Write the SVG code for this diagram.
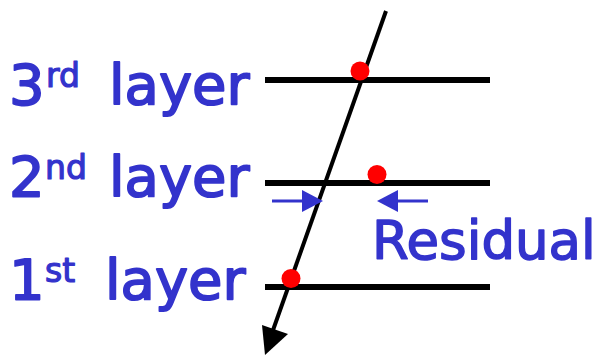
<svg xmlns="http://www.w3.org/2000/svg" width="598" height="357" viewBox="0 0 598 357">
  <style>
    .lbl { font-family: "DejaVu Sans", "Verdana", sans-serif; fill: #3333cc; stroke: #3333cc; stroke-linejoin: round; }
    .big { font-size: 56px; stroke-width: 1.8; }
    .sup { font-size: 33px; stroke-width: 1.2; }
    .layer { stroke: #000; stroke-width: 6; }
    .hit { fill: #ff0000; }
    .res { stroke: #3333cc; stroke-width: 3; }
  </style>

  <g id="label-3rd">
    <text class="lbl big" x="9" y="104">3<tspan class="sup" x="46" dy="-17">rd</tspan><tspan x="109" dy="17">layer</tspan></text>
  </g>
  <g id="label-2nd">
    <text class="lbl big" x="9" y="196">2<tspan class="sup" x="45" dy="-17">nd</tspan><tspan x="109" dy="17">layer</tspan></text>
  </g>
  <g id="label-1st">
    <text class="lbl big" x="9" y="299">1<tspan class="sup" x="45" dy="-17">st</tspan><tspan x="105" dy="17">layer</tspan></text>
  </g>

  <g id="layer-3"><line class="layer" x1="265" y1="80" x2="490" y2="80"/></g>
  <g id="layer-2"><line class="layer" x1="265" y1="183" x2="490" y2="183"/></g>
  <g id="layer-1"><line class="layer" x1="265" y1="287" x2="490" y2="287"/></g>

  <g id="connectors">
    <!-- track -->
    <line x1="386" y1="11" x2="272" y2="333" stroke="#000" stroke-width="4"/>
    <polygon points="262,325 288,334 265,355" fill="#000"/>
    <!-- residual arrows -->
    <line x1="272" y1="201" x2="303" y2="201" class="res"/>
    <polygon points="302,190 323,201 302,212" fill="#3333cc"/>
    <line x1="428" y1="201" x2="397" y2="201" class="res"/>
    <polygon points="398,190 377,201 398,212" fill="#3333cc"/>
  </g>

  <g id="hits">
    <circle class="hit" cx="360" cy="71" r="9.5"/>
    <circle class="hit" cx="377" cy="174.5" r="9.5"/>
    <circle class="hit" cx="291" cy="278.5" r="9.5"/>
  </g>

  <g id="label-residual">
    <text class="lbl" x="372" y="259" font-size="53" stroke-width="1.5">Residual</text>
  </g>
</svg>
